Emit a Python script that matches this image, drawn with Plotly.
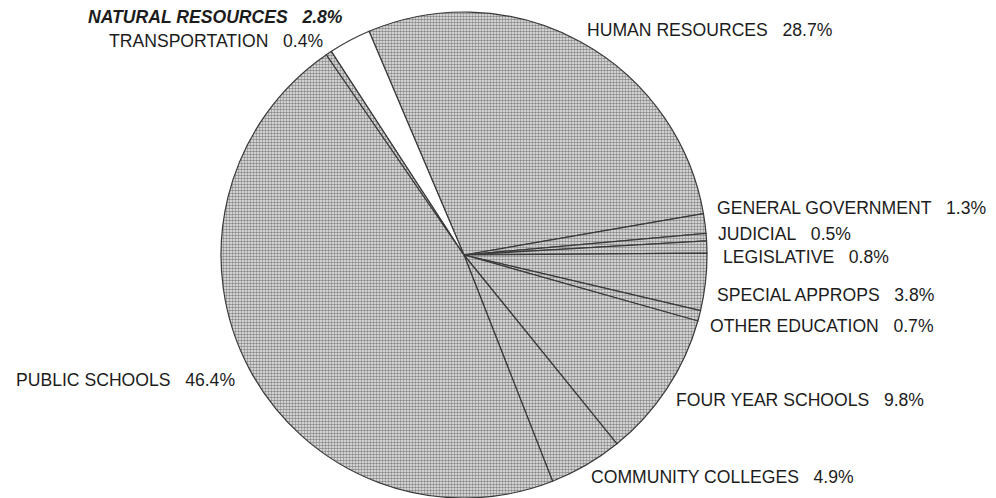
import plotly.graph_objects as go

# Budget shares by area, listed clockwise starting after Natural Resources
labels = [
    "HUMAN RESOURCES", "GENERAL GOVERNMENT", "JUDICIAL", "LEGISLATIVE",
    "SPECIAL APPROPS", "OTHER EDUCATION", "FOUR YEAR SCHOOLS",
    "COMMUNITY COLLEGES", "PUBLIC SCHOOLS", "TRANSPORTATION", "NATURAL RESOURCES",
]
shares = [28.7, 1.3, 0.5, 0.8, 3.8, 0.7, 9.8, 4.9, 46.4, 0.4, 2.8]
highlight = "NATURAL RESOURCES"

# label placement: (x, vertical centre y, anchor side) in pixels
label_pos = {
    "HUMAN RESOURCES": (585, 30, "left"),
    "GENERAL GOVERNMENT": (715, 208, "left"),
    "JUDICIAL": (716, 234, "left"),
    "LEGISLATIVE": (721, 257, "left"),
    "SPECIAL APPROPS": (715, 295, "left"),
    "OTHER EDUCATION": (708, 326, "left"),
    "FOUR YEAR SCHOOLS": (674, 400, "left"),
    "COMMUNITY COLLEGES": (589, 477, "left"),
    "PUBLIC SCHOOLS": (14, 380, "left"),
    "TRANSPORTATION": (325, 41, "right"),
    "NATURAL RESOURCES": (345, 17, "right"),
}

W, H = 996, 498

fills = ["#ffffff" if lab == highlight else "#cacaca" for lab in labels]
fg = ["#ffffff" if lab == highlight else "#8a8a8a" for lab in labels]
bg = ["#ffffff" if lab == highlight else "#efefef" for lab in labels]

fig = go.Figure(go.Pie(
    labels=labels,
    values=shares,
    sort=False,
    direction="clockwise",
    rotation=-23,
    textinfo="none",
    hoverinfo="label+percent",
    marker=dict(
        colors=fills,
        line=dict(color="#3a3a3a", width=1.2),
        pattern=dict(shape=".", size=3, solidity=0.55, fgcolor=fg, bgcolor=bg,
                     fillmode="replace"),
    ),
    domain=dict(x=[219 / W, 709 / W], y=[0, 1 - 12 / H]),
    showlegend=False,
))

annotations = []
for lab, val in zip(labels, shares):
    x, y, side = label_pos[lab]
    txt = f"{lab}\u00a0\u00a0\u00a0{val:.1f}%"
    if lab == highlight:
        txt = f"<b><i>{txt}</i></b>"
    annotations.append(dict(
        x=x / W, y=1 - y / H, xref="paper", yref="paper",
        xanchor=side, yanchor="middle", showarrow=False,
        text=txt, font=dict(family="Liberation Sans, Arial, sans-serif",
                            size=17.6, color="#1c1c1c"),
    ))

fig.update_layout(
    width=W, height=H,
    margin=dict(l=0, r=0, t=0, b=0),
    paper_bgcolor="white",
    plot_bgcolor="white",
    annotations=annotations,
)

fig.write_html("out.html")
